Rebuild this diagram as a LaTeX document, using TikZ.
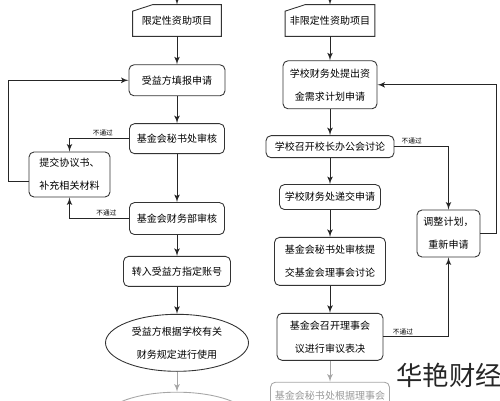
\documentclass[tikz,border=0pt]{standalone}
\usepackage{fontspec}
\setmainfont{Noto Sans CJK SC}
\usepackage{tikz}
\usetikzlibrary{shapes,arrows,positioning}

\begin{document}
\begin{tikzpicture}[node distance=0.5cm, auto, font=\fontsize{5.7}{13}\selectfont]
    % Define block styles
    \tikzstyle{block} = [rectangle, draw=black!80, line width=0.5pt, align=center, rounded corners=0.1cm, inner sep=0pt]
    \tikzstyle{plain} = [rectangle, draw=none, align=center, inner sep=0pt]
    \tikzstyle{oval} = [ellipse, draw=black!80, line width=0.5pt, align=center, inner sep=0pt]
    \tikzstyle{line} = [draw=black!85, line width=0.5pt, -latex']
    \tikzstyle{faded} = [draw=black!35, text=black!40]
    \tikzstyle{nopass} = [font=\fontsize{3.8}{4}\selectfont, inner sep=1pt]

    \useasboundingbox (0,-8) rectangle (10,0);
    \clip (0,-8) rectangle (10,0);

    % Left column
    \node [plain, minimum width=1.76cm, minimum height=0.62cm] at (3.54,-0.41) (Limited) {限定性资助项目};
    \node [block, below=0.56cm of Limited, minimum width=1.92cm, minimum height=0.62cm] (Apply) {受益方填报申请};
    \node [block, below=0.54cm of Apply, minimum width=1.9cm, minimum height=0.6cm] (Secretary) {基金会秘书处审核};
    \node [block, below=0.96cm of Secretary, minimum width=1.9cm, minimum height=0.64cm] (Finance) {基金会财务部审核};
    \node [block, below=0.42cm of Finance, minimum width=2.14cm, minimum height=0.6cm] (Transfer) {转入受益方指定账号};
    \node [oval, below=0.54cm of Transfer, minimum width=2.86cm, minimum height=1.14cm] (Use) {受益方根据学校有关\\财务规定进行使用};
    \node [oval, faded, below=0.4cm of Use, minimum width=3.0cm, minimum height=1.14cm] (Next_Left) {};
    \node [block, minimum width=1.62cm, minimum height=0.9cm] at (1.39,-3.49) (Supplement) {提交协议书、\\补充相关材料};

    % Right column
    \node [plain, minimum width=1.78cm, minimum height=0.62cm] at (6.6,-0.41) (Unlimited) {非限定性资助项目};
    \node [block, below=0.48cm of Unlimited, minimum width=1.88cm, minimum height=0.96cm] (School_Plan) {学校财务处提出资\\金需求计划申请};
    \node [block, below=0.52cm of School_Plan, minimum width=2.56cm, minimum height=0.44cm] (Principal_Meeting) {学校召开校长办公会讨论};
    \node [block, below=0.52cm of Principal_Meeting, minimum width=2.02cm, minimum height=0.5cm] (School_Submit) {学校财务处递交申请};
    \node [block, below=0.54cm of School_Submit, minimum width=2.22cm, minimum height=0.96cm] (Secretary_Review) {基金会秘书处审核提\\交基金会理事会讨论};
    \node [block, below=0.54cm of Secretary_Review, minimum width=2.12cm, minimum height=0.94cm] (Board_Vote) {基金会召开理事会\\议进行审议表决};
    \node [block, faded, below=0.42cm of Board_Vote, minimum width=2.38cm, minimum height=0.96cm] (Next_Right) {基金会秘书处根据理事会\\\mbox{}};
    \node [block, minimum width=1.26cm, minimum height=0.94cm] at (8.97,-4.67) (Adjust) {调整计划，\\重新申请};

    \node [font=\fontsize{15}{16}\selectfont, text=black!85, inner sep=0pt] at (8.98,-7.5) (Watermark) {华艳财经};

    % Input shapes
    \draw [black!80, line width=0.5pt] (Limited.south west) -- ([yshift=-0.13cm]Limited.north west) -- ([xshift=0.4cm]Limited.north west) -- (Limited.north east) -- (Limited.south east) -- cycle;
    \draw [black!80, line width=0.5pt] (Unlimited.south west) -- ([yshift=-0.13cm]Unlimited.north west) -- ([xshift=0.4cm]Unlimited.north west) -- (Unlimited.north east) -- (Unlimited.south east) -- cycle;
    \coordinate (Left_Top) at (3.54,0);
    \coordinate (Right_Top) at (6.6,0);

    % Arrows
    \path [line] (Left_Top) -- (Limited.north);
    \path [line] (Limited.south) -- (Apply.north);
    \path [line] (Apply.south) -- (Secretary.north);
    \path [line] (Secretary.south) -- (Finance.north);
    \path [line] (Finance.south) -- (Transfer.north);
    \path [line] (Transfer.south) -- (Use.north);
    \path [line, draw=black!35] (Use.south) -- (Next_Left.north);
    \path [line] (Secretary.west) -| node [nopass, above, pos=0.22] (Fail_1) {不通过} (Supplement.north);
    \path [line] (Finance.west) -| node [nopass, above, pos=0.19] (Fail_2) {不通过} (Supplement.south);
    \path [line] ([yshift=-0.13cm]Supplement.west) -- ++(-0.4cm,0) |- (Apply.west);

    \path [line] (Right_Top) -- (Unlimited.north);
    \path [line] (Unlimited.south) -- (School_Plan.north);
    \path [line] (School_Plan.south) -- (Principal_Meeting.north);
    \path [line] (Principal_Meeting.south) -- (School_Submit.north);
    \path [line] (School_Submit.south) -- (Secretary_Review.north);
    \path [line] (Secretary_Review.south) -- (Board_Vote.north);
    \path [line, draw=black!35] (Board_Vote.south) -- (Next_Right.north);
    \path [line] (Principal_Meeting.east) -| node [nopass, above, pos=0.16] (Fail_3) {不通过} (Adjust.north);
    \path [line] (Board_Vote.east) -| node [nopass, above, pos=0.15] (Fail_4) {不通过} (Adjust.south);
    \path [line] (Adjust.east) -- ++(0.32cm,0) |- (School_Plan.east);

  \end{tikzpicture}
\end{document}
